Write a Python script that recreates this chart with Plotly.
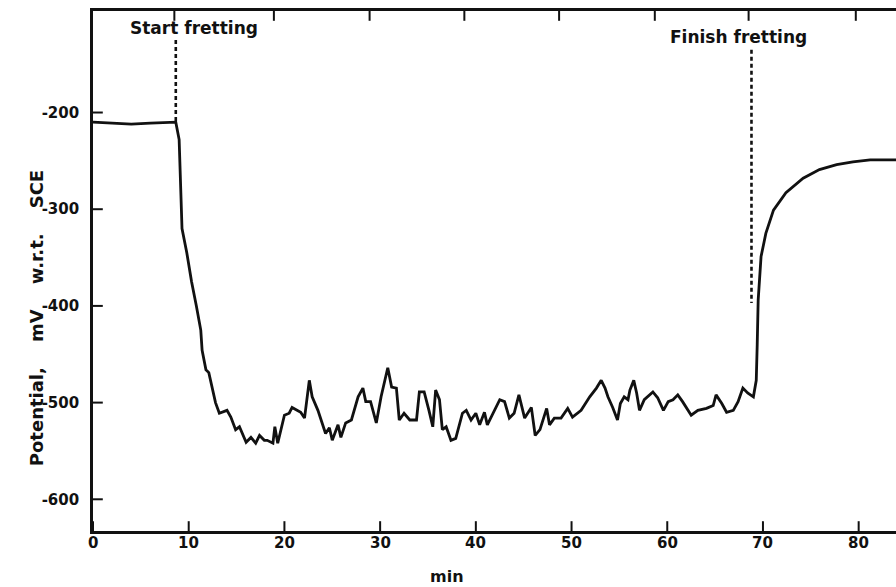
import plotly.graph_objects as go

# Potential vs time (min, mV w.r.t. SCE)
time_min = [0, 2, 4, 6, 8.65, 9.0, 9.15, 9.3, 9.8, 10.3, 10.8, 11.26, 11.4, 11.8, 12.1, 12.3, 12.8,
            13.2, 14.0, 14.4, 14.9, 15.3, 16.0, 16.5, 17.0, 17.4, 17.9, 18.2, 18.8, 19.0, 19.3,
            20.0, 20.5, 20.8, 21.4, 21.7, 22.1, 22.6, 22.9, 23.5, 24.3, 24.7, 25.0, 25.6, 25.9,
            26.4, 27.0, 27.7, 28.2, 28.5, 29.0, 29.6, 30.1, 30.8, 31.2, 31.7, 32.0, 32.5, 33.1,
            33.8, 34.1, 34.6, 35.1, 35.5, 35.8, 36.2, 36.5, 36.9, 37.4, 37.9, 38.6, 39.0, 39.5,
            40.0, 40.4, 40.9, 41.2, 41.8, 42.5, 43.0, 43.5, 44.0, 44.5, 45.1, 45.8, 46.2, 46.7,
            47.4, 47.7, 48.2, 48.9, 49.6, 50.1, 51.0, 51.9, 52.6, 53.1, 53.5, 53.8, 54.3, 54.8,
            55.1, 55.5, 55.9, 56.1, 56.5, 56.8, 57.1, 57.6, 58.5, 59.0, 59.6, 60.1, 60.6, 61.1,
            61.6, 62.5, 63.2, 64.1, 64.8, 65.1, 65.7, 66.2, 66.9, 67.4, 67.9, 68.4, 69.0, 69.3,
            69.4, 69.5, 69.8, 70.3, 71.1, 72.4, 74.2, 75.9, 77.7, 79.4, 81.2, 83.9]
potential_mv = [-210, -211, -212, -211, -210, -228, -290, -320, -345, -375, -400, -425, -446, -466, -469, -477, -500,
                -511, -508, -515, -528, -525, -541, -536, -542, -534, -539, -539, -542, -525, -542,
                -513, -511, -505, -508, -510, -516, -477, -494, -508, -532, -526, -539, -523, -536,
                -521, -518, -494, -485, -499, -499, -521, -494, -464, -484, -485, -518, -511, -518,
                -518, -489, -489, -508, -525, -487, -497, -528, -525, -539, -537, -511, -508, -518,
                -511, -523, -510, -523, -511, -497, -499, -516, -511, -492, -516, -505, -534, -528,
                -506, -523, -516, -516, -506, -515, -508, -494, -485, -477, -485, -494, -505, -518,
                -501, -494, -497, -487, -477, -490, -508, -497, -489, -495, -508, -499, -497, -492,
                -499, -513, -508, -506, -503, -492, -501, -510, -508, -499, -485, -490, -494, -477,
                -440, -394, -349, -325, -301, -283, -268, -259, -254, -251, -249, -249]

start_time = 8.65
start_mv = [-125, -210]
finish_time = 68.8
finish_mv = [-135, -397]

x_ticks = [0, 10, 20, 30, 40, 50, 60, 70, 80]
x_ticktext = ["0", "10", "20", "30", "40", "50", "60", "70", "80"]
y_ticks = [-200, -300, -400, -500, -600]
y_ticktext = ["-200", "-300", "-400", "-500", "-600"]
top_ticks = [8.5, 18.9, 28.9, 38.8, 48.7, 58.7, 68.5, 79.7]

X_RANGE = [0, 83.9]
Y_RANGE = [-632.8, -95]

INK = "#111111"
FAMILY = "DejaVu Sans"
font_tick = dict(family=FAMILY, size=15, color=INK)
font_title = dict(family=FAMILY, size=18, color=INK)
font_note = dict(family=FAMILY, size=17, color=INK)


def bold(s):
    return "<b>" + s + "</b>"


fig = go.Figure()
fig.add_trace(go.Scatter(x=time_min, y=potential_mv, mode="lines",
                         line=dict(color=INK, width=2.8), showlegend=False))
fig.add_trace(go.Scatter(x=[start_time, start_time], y=start_mv, mode="lines",
                         line=dict(color=INK, width=2.6, dash="4px,3px"), showlegend=False))
fig.add_trace(go.Scatter(x=[finish_time, finish_time], y=finish_mv, mode="lines",
                         line=dict(color=INK, width=2.6, dash="4px,3px"), showlegend=False))

# inward tick marks (clipped to the plot area so only the inner half shows)
tick_marker_v = dict(symbol="line-ns", size=14, line=dict(color=INK, width=2))
tick_marker_h = dict(symbol="line-ew", size=14, line=dict(color=INK, width=2))
fig.add_trace(go.Scatter(x=top_ticks, y=[Y_RANGE[1]] * len(top_ticks), mode="markers",
                         marker=tick_marker_v, cliponaxis=True, hoverinfo="skip", showlegend=False))
fig.add_trace(go.Scatter(x=x_ticks, y=[Y_RANGE[0]] * len(x_ticks), mode="markers",
                         marker=tick_marker_v, cliponaxis=True, hoverinfo="skip", showlegend=False))
fig.add_trace(go.Scatter(x=[X_RANGE[0]] * len(y_ticks), y=y_ticks, mode="markers",
                         marker=tick_marker_h, cliponaxis=True, hoverinfo="skip", showlegend=False))

# bottom tick labels
for v, t in zip(x_ticks, x_ticktext):
    fig.add_annotation(x=v, xref="x", y=-0.024, yref="paper", text=bold(t), showarrow=False,
                       xanchor="center", yanchor="middle", font=font_tick)

fig.add_annotation(x=10.56, y=-112.3, text=bold("Start fretting"), showarrow=False, font=font_note)
fig.add_annotation(x=67.4, y=-121.6, text=bold("Finish fretting"), showarrow=False, font=font_note)
fig.add_annotation(xref="paper", yref="paper", x=-0.086, y=0.41,
                   text=bold("Potential,    mV    w.r.t.    SCE"),
                   showarrow=False, textangle=-90, font=font_title)
fig.add_annotation(xref="x", yref="paper", x=37.0, y=-0.11, text=bold("min"), showarrow=False,
                   font=dict(family=FAMILY, size=16, color=INK))

fig.update_layout(
    width=896, height=587,
    margin=dict(l=93, r=0, t=11, b=56),
    paper_bgcolor="white", plot_bgcolor="white",
    xaxis=dict(range=X_RANGE, showticklabels=False, ticks="",
               showline=True, linewidth=2.6, linecolor=INK, mirror=True,
               showgrid=False, zeroline=False),
    yaxis=dict(range=Y_RANGE, tickvals=y_ticks, ticktext=[bold(t) for t in y_ticktext],
               ticks="", showline=True, linewidth=2.6, linecolor=INK,
               showgrid=False, zeroline=False, tickfont=font_tick, ticklabelstandoff=8),
)

fig.write_html("out.html")
